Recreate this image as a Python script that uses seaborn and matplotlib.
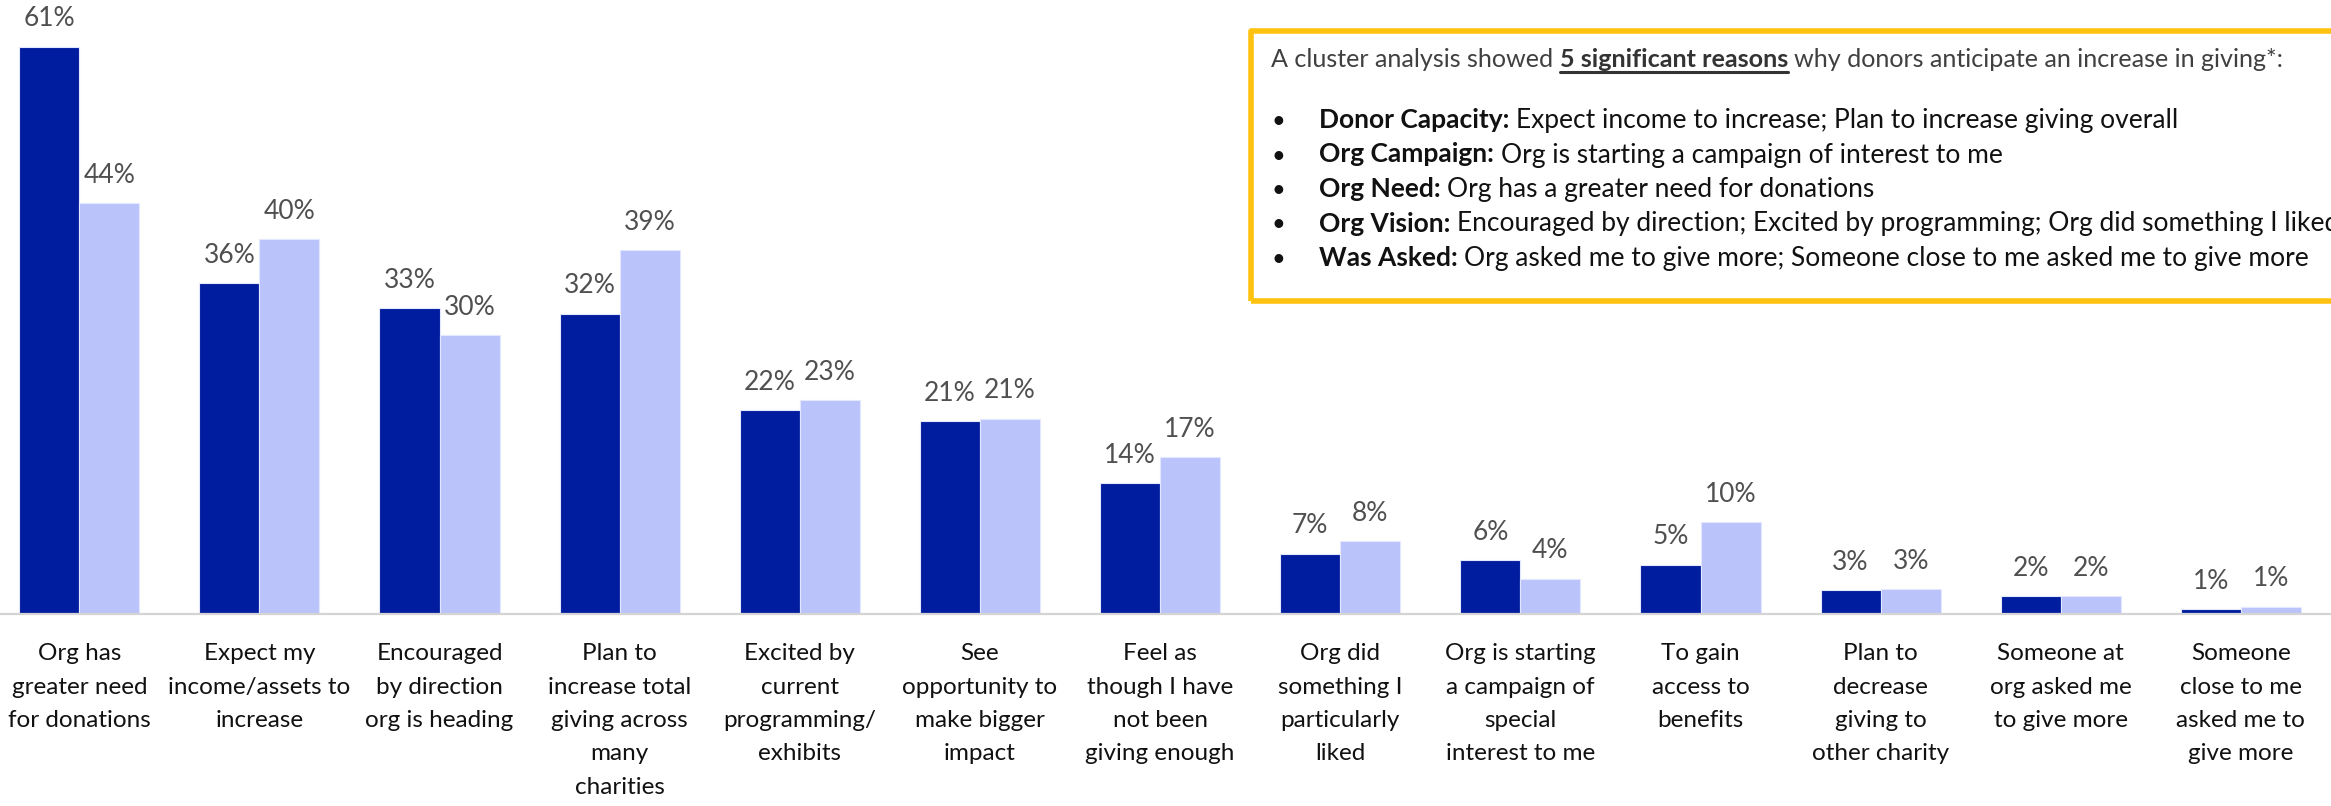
import numpy as np
import pandas as pd
import matplotlib
matplotlib.use('Agg')
import matplotlib.pyplot as plt
import seaborn as sns
from matplotlib.patches import Rectangle
from matplotlib.lines import Line2D
from matplotlib.transforms import IdentityTransform

# categories (tick labels) and the two series
categories = [
    "Org has\ngreater need\nfor donations",
    "Expect my\nincome/assets to\nincrease",
    "Encouraged\nby direction\norg is heading",
    "Plan to\nincrease total\ngiving across\nmany\ncharities",
    "Excited by\ncurrent\nprogramming/\nexhibits",
    "See\nopportunity to\nmake bigger\nimpact",
    "Feel as\nthough I have\nnot been\ngiving enough",
    "Org did\nsomething I\nparticularly\nliked",
    "Org is starting\na campaign of\nspecial\ninterest to me",
    "To gain\naccess to\nbenefits",
    "Plan to\ndecrease\ngiving to\nother charity",
    "Someone at\norg asked me\nto give more",
    "Someone\nclose to me\nasked me to\ngive more",
]
dark_vals = [61.0, 35.6, 32.9, 32.3, 21.9, 20.7, 14.1, 6.5, 5.8, 5.3, 2.6, 1.9, 0.5]
light_vals = [44.2, 40.3, 30.0, 39.1, 23.0, 21.0, 16.9, 7.8, 3.8, 9.9, 2.7, 1.9, 0.8]
dark_labels = ["61%", "36%", "33%", "32%", "22%", "21%", "14%", "7%", "6%", "5%", "3%", "2%", "1%"]
light_labels = ["44%", "40%", "30%", "39%", "23%", "21%", "17%", "8%", "4%", "10%", "3%", "2%", "1%"]
groups = ["A", "B"]

box_title_pre = "A cluster analysis showed"
box_title_key = "5 significant reasons"
box_title_post = "why donors anticipate an increase in giving*:"
reason_heads = ["Donor Capacity:", "Org Campaign:", "Org Need:", "Org Vision:", "Was Asked:"]
reason_texts = [
    "Expect income to increase; Plan to increase giving overall",
    "Org is starting a campaign of interest to me",
    "Org has a greater need for donations",
    "Encouraged by direction; Excited by programming; Org did something I liked",
    "Org asked me to give more; Someone close to me asked me to give more",
]

DARK = "#001C9F"
LIGHT = "#BAC4FB"

sns.set_style("white")
plt.rcParams['font.family'] = ['Lato', 'DejaVu Sans']

df = pd.DataFrame({
    "category": categories * 2,
    "group": [groups[0]] * len(categories) + [groups[1]] * len(categories),
    "value": dark_vals + light_vals,
})

W, H = 2331, 806
fig = plt.figure(figsize=(W / 100, H / 100), dpi=100)
ax = fig.add_axes([0, 192 / H, 1, 614 / H])

sns.barplot(data=df, x="category", y="value", hue="group", order=categories,
            palette=[DARK, LIGHT], saturation=1, width=0.667, gap=0,
            edgecolor="#E4E8FF", linewidth=0.8, legend=False, ax=ax)

for cont, labs in zip(ax.containers, [dark_labels, light_labels]):
    ax.bar_label(cont, labels=labs, padding=11, fontsize=19, color="#505050")

ax.set_xlim(-0.44, 12.5)
ax.set_ylim(0, 66)
ax.set_xlabel("")
ax.set_ylabel("")
ax.set_yticks([])
ax.set_xticks(np.arange(len(categories)))
ax.set_xticklabels([])
ax.tick_params(axis="x", length=0)
# category labels drawn under each group (need wider line spacing than tick labels allow)
for i, cat in enumerate(categories):
    ax.annotate(cat, xy=(i, 0), xycoords=ax.get_xaxis_transform(),
                xytext=(0, -21), textcoords="offset points", ha="center", va="top",
                fontsize=17.5, color="#111111", linespacing=1.73)
for s in ["top", "left", "right"]:
    ax.spines[s].set_visible(False)
ax.spines["bottom"].set_color("#D4D4D4")
ax.spines["bottom"].set_linewidth(1.6)

# callout box (runs off the right edge like the original)
box = Rectangle((1251, H - 301), 1200, 270, transform=IdentityTransform(),
                fill=False, edgecolor="#FFC20E", linewidth=4, clip_on=False,
                joinstyle="round")
fig.add_artist(box)

fig.canvas.draw()
renderer = fig.canvas.get_renderer()


def width_of(s, fs, **kw):
    t = fig.text(0, 0, s, fontsize=fs, **kw)
    w = t.get_window_extent(renderer).width
    t.remove()
    return w


def put_runs(x, y, runs, fs):
    space = width_of("x x", fs) - width_of("xx", fs)
    for text, weight, color, underline in runs:
        fig.text(x, y, text, transform=IdentityTransform(), fontsize=fs,
                 fontweight=weight, color=color, va="baseline", ha="left")
        w = width_of(text, fs, fontweight=weight)
        if underline:
            fig.add_artist(Line2D([x, x + w], [y - 5, y - 5], transform=IdentityTransform(),
                                  color="#333333", linewidth=2.2))
        x += w + space


put_runs(1271, H - 67, [
    (box_title_pre, "normal", "#404040", False),
    (box_title_key, "bold", "#333333", True),
    (box_title_post, "normal", "#404040", False),
], 18.1)

for i, (head, txt) in enumerate(zip(reason_heads, reason_texts)):
    yb = H - (128 + 34.5 * i)
    fig.text(1271, yb, "\u2022", transform=IdentityTransform(), fontsize=17,
             color="#111111", va="baseline", ha="left")
    put_runs(1319, yb, [(head, "bold", "#111111", False),
                        (txt, "normal", "#111111", False)], 19)

fig.savefig("out.png", dpi=100)
